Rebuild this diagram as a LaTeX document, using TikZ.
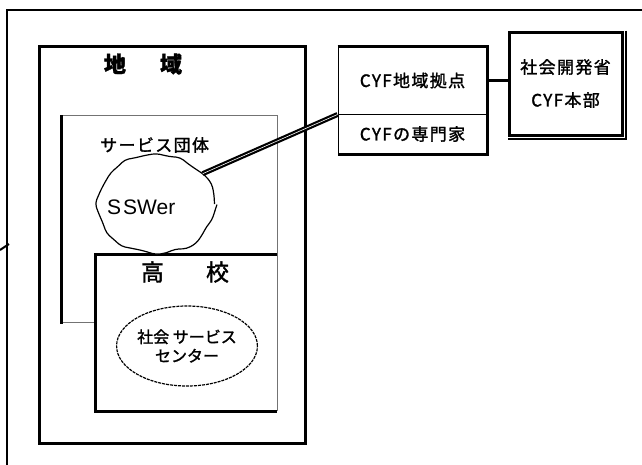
\documentclass[tikz,border=0pt]{standalone}
\usepackage{fontspec}
\setmainfont{Liberation Sans}
\newfontfamily\jp[FakeBold=1.5]{Noto Sans CJK JP}
\newfontfamily\jpw[LetterSpace=8,FakeBold=1.5]{Noto Sans CJK JP}
\usetikzlibrary{shapes.geometric,decorations.pathmorphing}
\begin{document}
\begin{tikzpicture}[x=1pt,y=-1pt,
  frame/.style={line width=2pt},
  region/.style={line width=3pt, line join=miter},
  thinedge/.style={line width=1pt, draw=black!55},
  lbl/.style={font=\jpw\fontsize{17}{20}\selectfont, inner sep=0pt},
  title/.style={font=\jp\bfseries\fontsize{22}{26}\selectfont, inner sep=0pt},
  schooltitle/.style={font=\jp\fontsize{23}{26}\selectfont, inner sep=0pt},
  cyfbox/.style={draw, line width=1pt, fill=white, inner sep=0pt, font=\jpw\fontsize{17}{20}\selectfont},
  moebox/.style={draw, line width=3pt, fill=white, inner sep=0pt, align=center, font=\jpw\fontsize{17}{33}\selectfont},
]
\useasboundingbox (0,0) rectangle (642,464);
\fill[white] (0,0) rectangle (642,464);
\pgfmathsetseed{7}
% outer frame
\draw[frame] (7,480) -- (7,10) -- (660,10);
\coordinate (tickA) at (0,250);
\coordinate (tickB) at (9,244);
\draw[line width=2pt] (tickA) -- (tickB);
% region box
\draw[region] (39,46) rectangle (305,443);
\node[title] (chiiki) at (143,64) {地\hspace{34pt}域};
% service organisation box
\draw[thinedge] (61,322) -- (95,322);
\draw[thinedge] (61,115) -- (277,115) -- (277,411);
\draw[region] (61,115) -- (61,323.5);
\node[lbl, anchor=west] (dantai) at (100,145) {サービス団体};
% high school box
\draw[region] (277,254) -- (95,254) -- (95,411) -- (277,411);
\node[schooltitle] (koukou) at (185,272) {高\hspace{42pt}校};
% social service centre
\node[draw, ellipse, line width=1.2pt, dash pattern=on 3pt off 1pt, minimum width=138pt, minimum height=80pt, inner sep=0pt, align=center, font=\jp\fontsize{16}{19}\selectfont] (center) at (187,346) {社会 サービス\\センター};
% SSWer cloud
\node[draw, ellipse, fill=white, line width=1.2pt, minimum width=117pt, minimum height=98pt, inner sep=0pt,
  decorate, decoration={random steps, segment length=10pt, amplitude=2.2pt}, rounded corners=4pt] (ssw) at (156,204) {};
\node[font=\fontsize{21}{26}\selectfont, inner sep=0pt, anchor=west] (sswlbl) at (107,207) {S\kern2pt SWer};
% CYF boxes
\node[cyfbox, minimum width=149pt, minimum height=67pt] (cyftop) at (412.5,80.5) {CYF地域拠点};
\node[cyfbox, minimum width=149pt, minimum height=40pt] (cyfbot) at (412.5,134) {CYFの専門家};
\draw[line width=2.5pt] (cyftop.north west) -- (cyftop.north east) -- (cyfbot.south east) -- (cyfbot.south west);
% ministry box
\node[moebox, minimum width=113pt, minimum height=103pt] (moe) at (565.5,83.5) {社会開発省\\CYF本部};
\draw[line width=2pt] ([xshift=2pt]moe.north east) -- ([xshift=2pt,yshift=-2pt]moe.south east) -- ([yshift=-2pt]moe.south west);
% connectors
\draw[line width=2.5pt] (cyftop.east) -- (cyftop.east -| moe.west);
\draw[double=white, double distance=0.6pt, line width=2.2pt] (ssw.33) -- (cyftop.south west);
\end{tikzpicture}
\end{document}
